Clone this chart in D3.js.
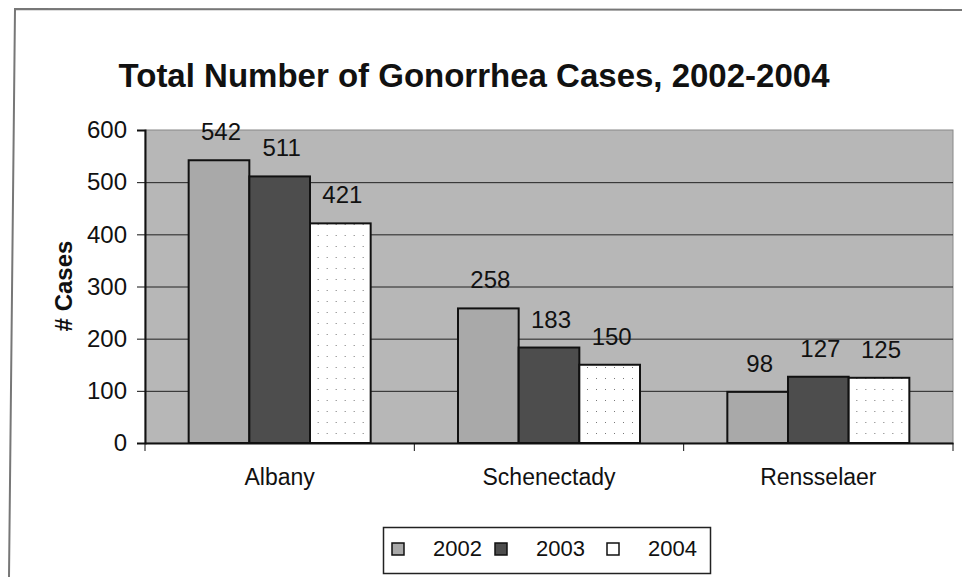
<!DOCTYPE html>
<html>
<head>
<meta charset="utf-8">
<script src="https://cdn.jsdelivr.net/npm/d3@7"></script>
<style>
  body { margin: 0; background: white; }
  svg { display: block; }
</style>
</head>
<body>
<div id="chart"></div>
<script>
// data
var counties = ["Albany", "Schenectady", "Rensselaer"];
var years = ["2002", "2003", "2004"];
var cases2002 = [542, 258, 98];
var cases2003 = [511, 183, 127];
var cases2004 = [421, 150, 125];
var yTicks = [0, 100, 200, 300, 400, 500, 600];

var seriesValues = [cases2002, cases2003, cases2004];
var fills = ["#a9a9a9", "#4d4d4d", "#ffffff"];
var fontFamily = "Arial, 'Liberation Sans', sans-serif";

var width = 962, height = 577;
var plot = { left: 145, right: 953, top: 130, bottom: 443 };

var svg = d3.select("#chart")
  .append("svg")
  .attr("width", width)
  .attr("height", height);

// dotted pattern for the white bars
var defs = svg.append("defs");
var dots = defs.append("pattern")
  .attr("id", "dots")
  .attr("width", 9)
  .attr("height", 11)
  .attr("patternUnits", "userSpaceOnUse");
dots.append("rect").attr("width", 9).attr("height", 11).attr("fill", "#fff");
dots.append("rect").attr("x", 3).attr("y", 4).attr("width", 1).attr("height", 1).attr("fill", "#777");

// outer frame (scanned page edge)
svg.append("path")
  .attr("d", "M9,577 L15,9 L962,10")
  .style("fill", "none")
  .style("stroke", "#777")
  .style("stroke-width", 2);

var x0 = d3.scaleBand()
  .domain(counties)
  .range([plot.left, plot.right]);

var x1 = d3.scaleBand()
  .domain(years)
  .range([0, 182])
  .padding(0);

var y = d3.scaleLinear()
  .domain([0, 600])
  .range([plot.bottom, plot.top]);

// plot background
svg.append("rect")
  .attr("x", plot.left)
  .attr("y", plot.top)
  .attr("width", plot.right - plot.left)
  .attr("height", plot.bottom - plot.top)
  .style("fill", "#b7b7b7")
  .style("stroke", "#888")
  .style("stroke-width", 1);

// gridlines
svg.append("g")
  .selectAll("line")
  .data(yTicks.slice(1, -1))
  .enter()
  .append("line")
  .attr("x1", plot.left)
  .attr("x2", plot.right)
  .attr("y1", function(d) { return y(d) + 0.5; })
  .attr("y2", function(d) { return y(d) + 0.5; })
  .style("stroke", "#222")
  .style("stroke-width", 1);

// bars
var groups = svg.append("g")
  .selectAll("g")
  .data(counties)
  .enter()
  .append("g")
  .attr("transform", function(d) {
    return "translate(" + (x0(d) + (x0.bandwidth() - 182) / 2) + ",0)";
  });

groups.selectAll("rect")
  .data(function(d, i) {
    return years.map(function(yr, j) { return { year: yr, value: seriesValues[j][i], idx: j }; });
  })
  .enter()
  .append("rect")
  .attr("x", function(d) { return x1(d.year); })
  .attr("y", function(d) { return y(d.value); })
  .attr("width", x1.bandwidth())
  .attr("height", function(d) { return y(0) - y(d.value); })
  .style("fill", function(d) { return d.idx === 2 ? "url(#dots)" : fills[d.idx]; })
  .style("stroke", "#111")
  .style("stroke-width", 2);

groups.selectAll("text")
  .data(function(d, i) {
    return years.map(function(yr, j) { return { year: yr, value: seriesValues[j][i] }; });
  })
  .enter()
  .append("text")
  .attr("x", function(d) { return x1(d.year) + x1.bandwidth() / 2 + 2; })
  .attr("y", function(d) { return y(d.value) - 20; })
  .style("font-family", fontFamily)
  .style("font-size", "24px")
  .style("text-anchor", "middle")
  .style("fill", "#111")
  .text(function(d) { return d.value; });

// y axis
var yAxis = svg.append("g")
  .attr("transform", "translate(" + plot.left + ",0)")
  .call(d3.axisLeft(y).tickValues(yTicks).tickSize(8).tickPadding(10));
yAxis.select(".domain").style("stroke", "#111").style("stroke-width", 2);
yAxis.selectAll(".tick line").style("stroke", "#111");
yAxis.selectAll(".tick text")
  .style("font-family", fontFamily)
  .style("font-size", "24px")
  .style("fill", "#111");

// x axis
var xAxis = svg.append("g")
  .attr("transform", "translate(0," + plot.bottom + ")")
  .call(d3.axisBottom(x0).tickSize(0).tickPadding(26));
xAxis.select(".domain").style("stroke", "#111").style("stroke-width", 2);
xAxis.selectAll(".tick text")
  .style("font-family", fontFamily)
  .style("font-size", "23px")
  .style("fill", "#111");

// category separator ticks
var bounds = counties.map(function(c) { return x0(c); }).concat([plot.right]);
svg.append("g")
  .selectAll("line")
  .data(bounds)
  .enter()
  .append("line")
  .attr("x1", function(d) { return d; })
  .attr("x2", function(d) { return d; })
  .attr("y1", plot.bottom)
  .attr("y2", plot.bottom + 8)
  .style("stroke", "#111")
  .style("stroke-width", 1);

// title
svg.append("text")
  .attr("x", 474)
  .attr("y", 87)
  .style("font-family", fontFamily)
  .style("font-size", "33px")
  .style("font-weight", "bold")
  .style("text-anchor", "middle")
  .style("fill", "#111")
  .text("Total Number of Gonorrhea Cases, 2002-2004");

// y axis title
svg.append("text")
  .attr("transform", "translate(72,286) rotate(-90)")
  .style("font-family", fontFamily)
  .style("font-size", "24px")
  .style("font-weight", "bold")
  .style("text-anchor", "middle")
  .style("fill", "#111")
  .text("# Cases");

// legend
var legend = svg.append("g");
legend.append("rect")
  .attr("x", 383.5)
  .attr("y", 527.5)
  .attr("width", 327)
  .attr("height", 46)
  .style("fill", "white")
  .style("stroke", "#222")
  .style("stroke-width", 1.5);

var legendX = [392, 495, 607];
var items = legend.selectAll("g.item")
  .data(years)
  .enter()
  .append("g")
  .attr("class", "item")
  .attr("transform", function(d, i) { return "translate(" + legendX[i] + ",543)"; });

items.append("rect")
  .attr("width", 12)
  .attr("height", 12)
  .style("fill", function(d, i) { return i === 2 ? "#fff" : fills[i]; })
  .style("stroke", "#111")
  .style("stroke-width", 1.5);

items.append("text")
  .attr("x", 41)
  .attr("y", 13)
  .style("font-family", fontFamily)
  .style("font-size", "22px")
  .style("fill", "#111")
  .text(function(d) { return d; });
</script>
</body>
</html>
